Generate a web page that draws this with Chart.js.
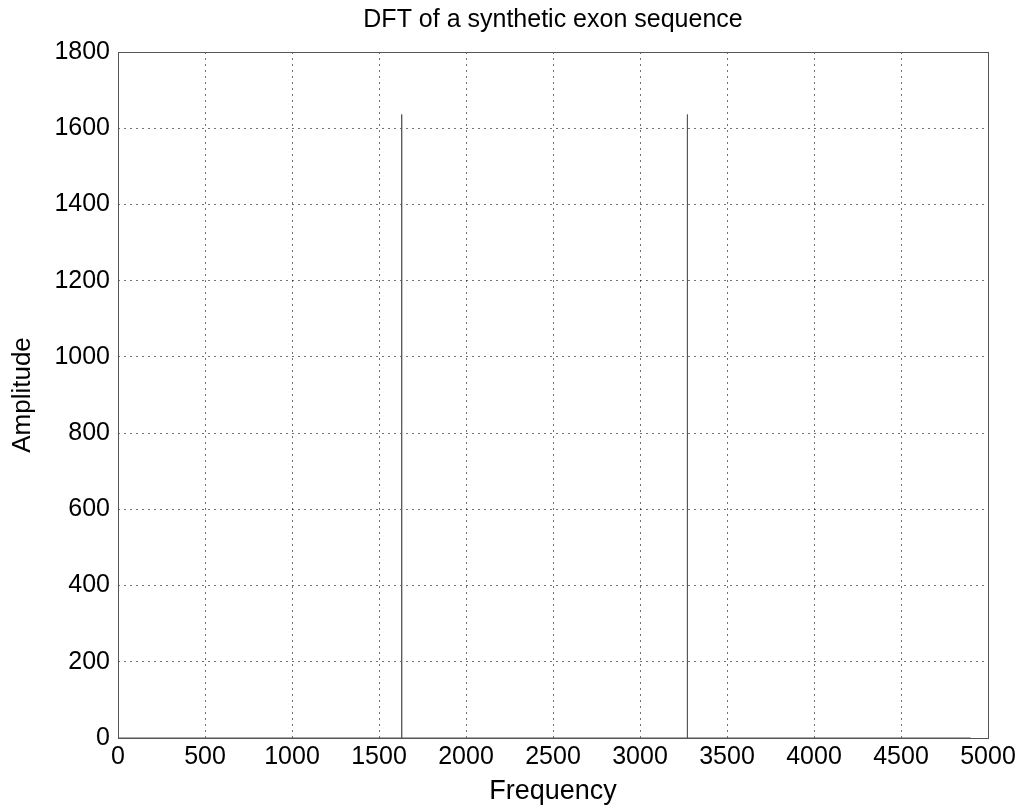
<!DOCTYPE html>
<html>
<head>
<meta charset="utf-8">
<script src="https://cdn.jsdelivr.net/npm/chart.js@4/dist/chart.umd.min.js"></script>
<style>
  html, body { margin: 0; padding: 0; background: #fff; }
  #wrap { width: 1023px; height: 808px; }
</style>
</head>
<body>
<div id="wrap"><canvas id="dft"></canvas></div>
<script>
// magnitude spectrum: flat except the two period-3 peaks
const frequency = [0, 1629, 1630, 1631, 3271, 3272, 3273, 4900];
const amplitude = [0, 0, 1636, 0, 0, 1636, 0, 0];
const xTicks = [0, 500, 1000, 1500, 2000, 2500, 3000, 3500, 4000, 4500, 5000];
const yTicks = [0, 200, 400, 600, 800, 1000, 1200, 1400, 1600, 1800];

const FONT = '"Liberation Sans", Arial, Helvetica, sans-serif';

// closed box round the axes, like a matlab plot
const boxPlugin = {
    id: 'box',
    afterDraw: function (chart) {
        const a = chart.chartArea;
        const ctx = chart.ctx;
        ctx.save();
        ctx.strokeStyle = '#555';
        ctx.lineWidth = 1;
        ctx.strokeRect(a.left + 0.5, a.top + 0.5, a.right - a.left, a.bottom - a.top);
        ctx.restore();
    }
};

const gridStyle = {
    color: 'rgba(0,0,0,0.55)',
    lineWidth: 1,
    drawTicks: false
};

const plain = v => String(v);

new Chart(document.getElementById('dft'), {
    type: 'line',
    data: {
        datasets: [{
            data: frequency.map((f, i) => ({ x: f, y: amplitude[i] })),
            borderColor: '#555',
            borderWidth: 1,
            pointRadius: 0,
            tension: 0
        }]
    },
    options: {
        responsive: true,
        maintainAspectRatio: false,
        animation: false,
        layout: { padding: { left: 0, right: 35, top: 0, bottom: 0 } },
        plugins: {
            legend: { display: false },
            tooltip: { enabled: false },
            title: {
                display: true,
                fullSize: false,
                text: 'DFT of a synthetic exon sequence',
                color: '#000',
                font: { family: FONT, size: 25, weight: 'normal' },
                padding: { top: 5, bottom: 17 }
            }
        },
        scales: {
            x: {
                type: 'linear',
                min: 0,
                max: 5000,
                afterBuildTicks: function (scale) {
                    scale.ticks = xTicks.map(v => ({ value: v }));
                },
                afterFit: function (scale) { scale.height = 70; },
                grid: gridStyle,
                border: { display: false, dash: [2, 4] },
                ticks: {
                    color: '#000',
                    padding: 4,
                    maxRotation: 0,
                    callback: plain,
                    font: { family: FONT, size: 25 }
                },
                title: {
                    display: true,
                    text: 'Frequency',
                    color: '#000',
                    font: { family: FONT, size: 27 },
                    padding: { top: 0, bottom: 0 }
                }
            },
            y: {
                type: 'linear',
                min: 0,
                max: 1800,
                afterBuildTicks: function (scale) {
                    scale.ticks = yTicks.map(v => ({ value: v }));
                },
                afterFit: function (scale) { scale.width = 118; },
                grid: gridStyle,
                border: { display: false, dash: [2, 4] },
                ticks: {
                    color: '#000',
                    padding: 8,
                    callback: plain,
                    font: { family: FONT, size: 25 }
                },
                title: {
                    display: true,
                    text: 'Amplitude',
                    color: '#000',
                    font: { family: FONT, size: 26 },
                    padding: { top: 7, bottom: 0 }
                }
            }
        }
    },
    plugins: [boxPlugin]
});
</script>
</body>
</html>
